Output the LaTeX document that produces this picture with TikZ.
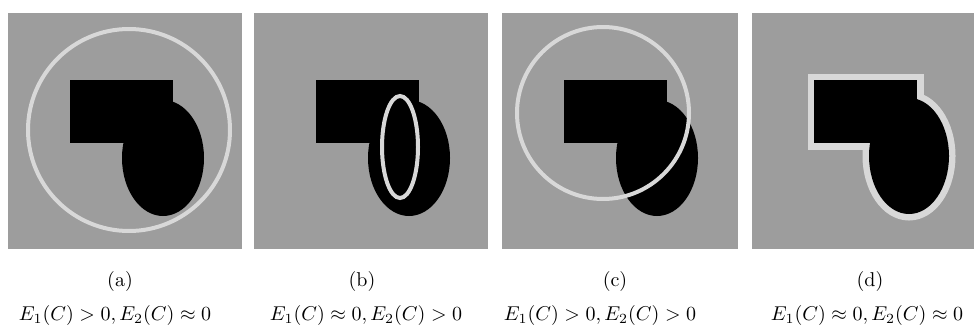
\documentclass[tikz,border=0pt]{standalone}
\usepackage{amsmath, amssymb}
\usetikzlibrary{scopes, calc, positioning}
\definecolor{panelgray}{RGB}{157,157,157}
\definecolor{contourgray}{RGB}{216,216,216}
\newcommand{\blobfill}[1]{%
    \fill[#1] (62,67) rectangle (165,130);
    \fill[#1] (155,145) ellipse [x radius=41, y radius=58];
}
\tikzset{
    panel/.style={fill=panelgray},
    contour/.style={draw=contourgray, line width=2pt},
    tag/.style={inner sep=1pt, font=\normalsize},
    energy/.style={inner sep=1pt, font=\normalsize},
}

\begin{document}
\begin{tikzpicture}[x=0.5pt, y=-0.5pt]
    \useasboundingbox (0,0) rectangle (974,327);
    % (a) large circle round the object
    {[shift={(8,13)}]
        \fill[panel] (0,0) rectangle (234,236);
        \blobfill{black}
        \draw[contour] (121,117) circle [radius=101];
    }
    % (b) small ellipse inside the object
    {[shift={(254,13)}]
        \fill[panel] (0,0) rectangle (234,236);
        \blobfill{black}
        \draw[contour] (146,134) ellipse [x radius=18, y radius=51];
    }
    % (c) circle crossing the boundary
    {[shift={(502,13)}]
        \fill[panel] (0,0) rectangle (236,236);
        \blobfill{black}
        \draw[contour] (101,100) circle [radius=86];
    }
    % (d) contour on the boundary
    {[shift={(752,13)}]
        \fill[panel] (0,0) rectangle (222,236);
        \draw[draw=contourgray, line width=6.5pt] (62,67) rectangle (165,130);
        \draw[draw=contourgray, line width=6.5pt]
            (157,143) ellipse [x radius=40, y radius=58];
        \fill[black] (62,67) rectangle (165,130);
        \fill[black] (157,143) ellipse [x radius=40, y radius=58];
    }
    \node[tag] (tag-a) at (120,281) {(a)};
    \node[tag] (tag-b) at (362,281) {(b)};
    \node[tag] (tag-c) at (615,281) {(c)};
    \node[tag] (tag-d) at (870,281) {(d)};
    \node[energy] (eq-a) at (115,315) {$E_1(C) > 0, E_2(C) \approx 0$};
    \node[energy] (eq-b) at (366,315) {$E_1(C) \approx 0, E_2(C) > 0$};
    \node[energy] (eq-c) at (600,315) {$E_1(C) > 0, E_2(C) > 0$};
    \node[energy] (eq-d) at (867,315) {$E_1(C) \approx 0, E_2(C) \approx 0$};
\end{tikzpicture}
\end{document}
